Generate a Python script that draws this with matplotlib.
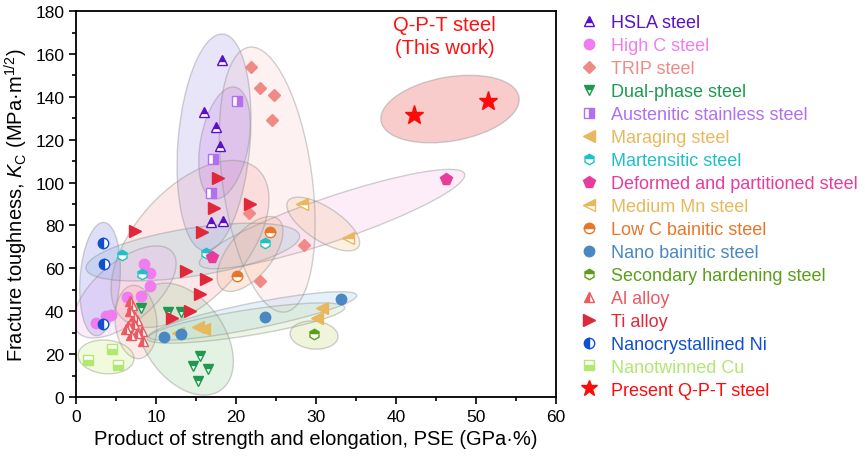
import numpy as np
import matplotlib
matplotlib.use("Agg")
import matplotlib.pyplot as plt
from matplotlib.patches import Ellipse
from matplotlib.transforms import Affine2D
from matplotlib.lines import Line2D

plt.rcParams["font.family"] = ["Liberation Sans", "DejaVu Sans"]
plt.rcParams["mathtext.fontset"] = "custom"
plt.rcParams["mathtext.rm"] = "Liberation Sans"
plt.rcParams["mathtext.it"] = "Liberation Sans:italic"

# ── data (PSE in GPa·%, K_C in MPa·m^1/2) ────────────────────────────────────
hsla_x = [18.2, 16.0, 17.5, 18.0, 16.9, 18.4]
hsla_y = [157, 133, 126, 117, 81.5, 82]
highc_x = [8.5, 9.2, 9.2, 6.4, 8.1, 2.5, 3.8, 4.4]
highc_y = [62, 58, 52, 46.5, 47, 34.5, 38, 38.3]
trip_x = [21.9, 23.0, 24.7, 24.5, 21.6, 28.5, 23.0]
trip_y = [154, 144, 141, 129, 86, 71, 54]
dual_x = [8.1, 11.5, 13.1, 15.5, 14.6, 16.5, 15.2]
dual_y = [41.7, 39.8, 39.8, 19.3, 14.6, 13.0, 7.6]
aust_x = [20.1, 17.1, 16.9]
aust_y = [138, 111, 95]
marag_x = [12.7, 15.3, 16.0, 30.8, 30.1]
marag_y = [30, 32.5, 31.7, 41.4, 36.8]
mart_x = [5.7, 8.2, 16.3, 23.6]
mart_y = [66.4, 57.4, 67, 72]
dp_x = [17.0, 46.3]
dp_y = [65.4, 101.7]
medmn_x = [28.2, 34.0]
medmn_y = [90, 74]
lowc_x = [24.3, 20.1]
lowc_y = [77, 56.6]
nanob_x = [11.0, 13.1, 23.6, 33.1]
nanob_y = [28, 29.2, 37.2, 45.7]
sech_x = [29.7]
sech_y = [29.4]
al_x = [6.7, 7.0, 6.8, 7.2, 6.5, 7.3, 8.3, 6.9, 7.6, 6.3, 8.4, 7.6]
al_y = [45, 43, 40, 38, 33, 34, 31, 29, 30, 31.5, 26, 36]
ti_x = [17.7, 17.2, 21.7, 15.7, 7.4, 13.8, 16.2, 15.5, 14.3, 12.0]
ti_y = [102, 88, 90, 77, 77.5, 59, 55, 48, 40, 37]
ni_x = [3.4, 3.5, 3.4]
ni_y = [72, 62, 34]
cu_x = [4.5, 1.5, 5.2]
cu_y = [22.4, 17.4, 15.0]
qpt_x = [42.2, 51.5]
qpt_y = [131.5, 138]

# label, x, y, colour, marker, fillstyle, size
SERIES = [
    ("HSLA steel", hsla_x, hsla_y, "#5a10c8", "^", "top", 7.5),
    ("High C steel", highc_x, highc_y, "#f07cf0", "o", "full", 7.5),
    ("TRIP steel", trip_x, trip_y, "#f08a86", "D", "full", 6.5),
    ("Dual-phase steel", dual_x, dual_y, "#1e9a50", "v", "top", 7.5),
    ("Austenitic stainless steel", aust_x, aust_y, "#b070f0", "s", "right", 6.5),
    ("Maraging steel", marag_x, marag_y, "#e8b85c", "<", "full", 8.5),
    ("Martensitic steel", mart_x, mart_y, "#20c0c8", "h", "top", 7.5),
    ("Deformed and partitioned steel", dp_x, dp_y, "#e83c9c", "p", "full", 8.5),
    ("Medium Mn steel", medmn_x, medmn_y, "#e8b85c", "<", "top", 8.5),
    ("Low C bainitic steel", lowc_x, lowc_y, "#e8762a", "o", "top", 7.5),
    ("Nano bainitic steel", nanob_x, nanob_y, "#4a88c4", "o", "full", 7.5),
    ("Secondary hardening steel", sech_x, sech_y, "#5a9e1a", "h", "top", 7.5),
    ("Al alloy", al_x, al_y, "#ea5a60", "^", "left", 7.5),
    ("Ti alloy", ti_x, ti_y, "#e0283a", ">", "full", 8.5),
    ("Nanocrystallined Ni", ni_x, ni_y, "#1050d0", "o", "left", 7.5),
    ("Nanotwinned Cu", cu_x, cu_y, "#b0e870", "s", "bottom", 6.5),
    ("Present Q-P-T steel", qpt_x, qpt_y, "#ff0a0a", "*", "full", 14),
]

# shaded regions: centre (data), semi-axes (in x-data units), angle on screen, colour, alpha
REGIONS = [
    ((23.9, 101.4), 16.7, 5.6, 97.7, "#f4b0a8", 0.16),   # TRIP
    ((14.25, 71.4), 12.6, 6.9, 48, "#f08080", 0.18),      # Ti
    ((17.25, 118.7), 13.6, 4.5, 85.3, "#9080e0", 0.20),   # HSLA
    ((18.56, 118.5), 7.1, 3.0, 79.4, "#c070e8", 0.22),    # austenitic
    ((32.0, 83.0), 17.5, 2.75, 18.8, "#f4a8e0", 0.20),    # deformed & partitioned
    ((14.6, 67.6), 13.5, 3.0, 8.8, "#90c8d8", 0.28),      # martensitic
    ((6.1, 49.0), 7.75, 3.75, 40, "#f0a8f0", 0.22),       # high C
    ((3.0, 55.0), 7.1, 2.5, 86, "#8080e8", 0.25),         # Ni
    ((7.5, 35.0), 4.6, 2.6, 95, "#f4a090", 0.22),         # Al
    ((13.6, 27.0), 7.8, 5.0, -55, "#a8d8a8", 0.32),       # dual-phase
    ((22.1, 37.8), 13.25, 1.6, 11.3, "#b0d4f0", 0.32),    # nano bainitic
    ((21.25, 34.5), 12.5, 1.6, 9, "#c8e0b0", 0.32),       # maraging
    ((29.75, 28.9), 3.0, 1.75, -5, "#d8e4a0", 0.38),      # secondary hardening
    ((30.9, 80.7), 5.25, 2.1, -33, "#f8d0a8", 0.32),      # medium Mn
    ((21.75, 66.7), 5.6, 2.75, 51, "#f8c0a0", 0.32),      # low C bainitic
    ((3.75, 18.7), 3.5, 2.1, -5, "#e0f4b0", 0.42),        # Cu
    ((46.75, 134.3), 8.75, 4.0, 10, "#f08080", 0.40),     # Q-P-T
]

XMAX, YMAX = 60, 180

fig = plt.figure(figsize=(8.65, 4.64), dpi=100)
ax = fig.add_axes([0.0879, 0.1422, 0.5549, 0.8318])
ax.set_xlim(0, XMAX)
ax.set_ylim(0, YMAX)

# y scale factor so ellipses are isotropic on screen
fig.canvas.draw()
bb = ax.get_window_extent()
k = (YMAX / bb.height) / (XMAX / bb.width)
iso = Affine2D().scale(1, k) + ax.transData

for (cx, cy), a, b, ang, col, al in REGIONS:
    ax.add_patch(Ellipse((cx, cy / k), 2 * a, 2 * b, angle=ang, transform=iso,
                         facecolor=col, alpha=al, edgecolor="none", zorder=1))
    ax.add_patch(Ellipse((cx, cy / k), 2 * a, 2 * b, angle=ang, transform=iso,
                         facecolor="none", edgecolor="#8c8c8c", alpha=0.4,
                         lw=1.0, zorder=1.5))

handles = []
for lab, xs, ys, col, mk, fs, ms in SERIES:
    ax.plot(xs, ys, ls="none", marker=mk, ms=ms, fillstyle=fs, color=col,
            markerfacecoloralt="white", markeredgecolor=col, mew=1.0, zorder=3)
    handles.append(Line2D([], [], ls="none", marker=mk, ms=ms if mk != "*" else 12,
                          fillstyle=fs, color=col, markerfacecoloralt="white",
                          markeredgecolor=col, mew=1.0, label=lab))

ax.text(46.1, 168.5, "Q-P-T steel\n(This work)", color="#ff1010", fontsize=14.5,
        ha="center", va="center", linespacing=1.25)

ax.set_xticks(np.arange(0, 61, 10))
ax.set_xticks(np.arange(0, 61, 5), minor=True)
ax.set_yticks(np.arange(0, 181, 20))
ax.set_yticks(np.arange(0, 181, 10), minor=True)
ax.tick_params(which="major", direction="out", length=5, width=1.2, labelsize=12.5)
ax.tick_params(which="minor", direction="out", length=3, width=1.2)
for sp in ax.spines.values():
    sp.set_linewidth(1.3)
ax.set_xlabel("Product of strength and elongation, PSE (GPa·%)", fontsize=14.5)
ax.set_ylabel("Fracture toughness, $K_\\mathrm{C}$ (MPa·m$^{1/2}$)", fontsize=14.5)

leg = ax.legend(handles=handles, loc="upper left", bbox_to_anchor=(1.035, 1.01),
                frameon=False, fontsize=13, handlelength=1.0, handletextpad=0.7,
                labelspacing=0.33, borderaxespad=0,
                labelcolor=[s[3] for s in SERIES])

fig.savefig("out.png", dpi=100)
